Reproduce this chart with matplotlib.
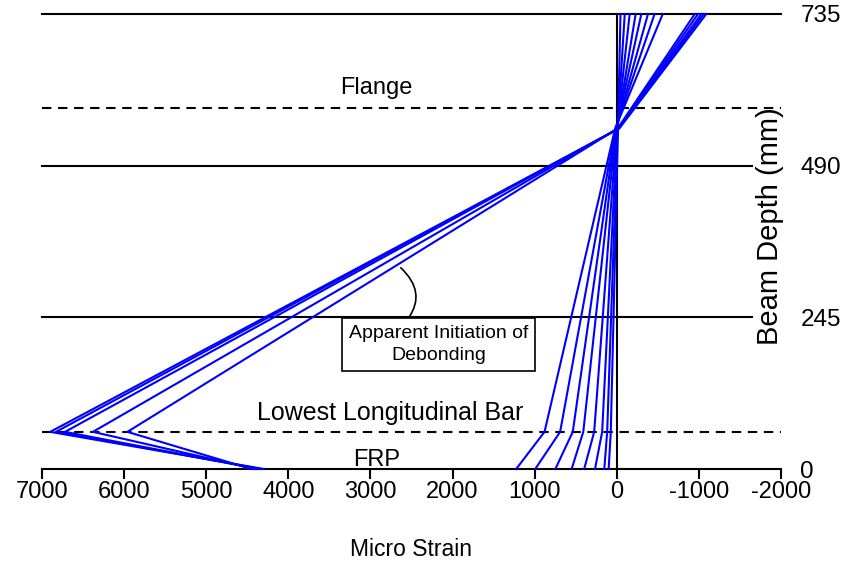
import matplotlib
matplotlib.use("Agg")
import matplotlib.pyplot as plt

plt.rcParams['font.family'] = ['Liberation Sans', 'DejaVu Sans']

# Gauge depths (mm): FRP, lowest bar, near neutral axis, top
depths = [0, 60, 550, 735]

# Debonding group (large strains)
a_frp = [4300, 4330, 4360, 4400, 4450]
a_bar = [6900, 6830, 6720, 6380, 5960]
a_mid = [-30, -25, -20, -15, -10]
a_top = [-1090, -1060, -1030, -990, -950]

# Pre-debonding load stages
b_frp = [1225, 993, 748, 550, 397, 265, 152, 99]
b_bar = [880, 690, 536, 408, 275, 178, 117, 73]
b_mid = [20, 15, 10, 5, 0, -5, -10, -15]
b_top = [-560, -460, -380, -299, -230, -157, -97, -45]

x_ticks = [7000, 6000, 5000, 4000, 3000, 2000, 1000, 0, -1000, -2000]
x_tick_labels = ["7000", "6000", "5000", "4000", "3000", "2000", "1000", "0", "-1000", "-2000"]
y_ticks = [0, 245, 490, 735]
y_tick_labels = ["0", "245", "490", "735"]

short_levels = [245, 490]
full_levels = [735]
dashed_levels = [60, 583]

fig = plt.figure(figsize=(8.48, 5.68), dpi=100)
ax = fig.add_axes([42/848, 1-469/568, (781-42)/848, (469-14)/568])
ax.set_xlim(7000, -2000)
ax.set_ylim(0, 735)

for s in ['top', 'left', 'right']:
    ax.spines[s].set_visible(False)
ax.spines['bottom'].set_linewidth(1.5)

ax.set_xticks(x_ticks)
ax.set_xticklabels(x_tick_labels, fontsize=17)
ax.tick_params(axis='x', direction='out', length=7, width=1.5, pad=2)

ax.yaxis.tick_right()
ax.set_yticks(y_ticks)
ax.set_yticklabels(y_tick_labels, fontsize=17.5)
ax.tick_params(axis='y', length=0, pad=14)

ax.set_xlabel("Micro Strain", fontsize=16.5, labelpad=25)

for lv in short_levels:
    ax.plot([7000, -1650], [lv, lv], color='black', lw=1.5, zorder=1, clip_on=False)
for lv in full_levels:
    ax.axhline(lv, color='black', lw=1.5, zorder=1, clip_on=False)
for lv in dashed_levels:
    ln = ax.axhline(lv, color='black', lw=1.5, zorder=1, clip_on=False)
    ln.set_dashes((4.5, 3.2))

ax.plot([0, 0], [0, 735], color='black', lw=1.5, zorder=1, clip_on=False)

for f, b, m, t in zip(a_frp, a_bar, a_mid, a_top):
    ax.plot([f, b, m, t], depths, color='#0000FF', lw=1.5, zorder=3, clip_on=False)
for f, b, m, t in zip(b_frp, b_bar, b_mid, b_top):
    ax.plot([f, b, m, t], depths, color='#0000FF', lw=1.5, zorder=3, clip_on=False)

ax.text(2930, 615, "Flange", fontsize=17, ha='center', va='center')
ax.text(2760, 90, "Lowest Longitudinal Bar", fontsize=18, ha='center', va='center')
ax.text(2930, 15, "FRP", fontsize=17, ha='center', va='center')

ax.annotate("Apparent Initiation of\nDebonding", xy=(2630, 325), xytext=(2173, 201),
            fontsize=14, ha='center', va='center', linespacing=1.35, zorder=5,
            bbox=dict(boxstyle='square,pad=0.35', fc='white', ec='black', lw=1.2),
            arrowprops=dict(arrowstyle='-', connectionstyle='arc3,rad=0.5',
                            color='black', lw=1.2, relpos=(0.3, 1.0),
                            shrinkA=0, shrinkB=0))

ax.text(-1860, 392, "Beam Depth (mm)", rotation=90, fontsize=21, ha='center', va='center',
        zorder=6)

fig.savefig("out.png", dpi=100)
